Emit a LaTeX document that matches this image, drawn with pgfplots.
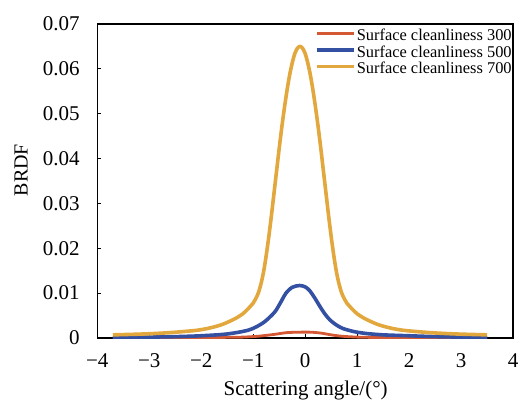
\documentclass[border=0pt]{standalone}
\usepackage{fontspec}
\setmainfont{Liberation Serif}
\usepackage{pgfplots}
\pgfplotsset{compat=1.18}
\definecolor{cRed}{RGB}{212,88,52}
\definecolor{cBlue}{RGB}{52,80,162}
\definecolor{cYel}{RGB}{226,168,62}
\begin{document}
\begin{tikzpicture}
\path[use as bounding box] (-48.65pt,-32pt) rectangle (211.35pt,169pt);
\begin{axis}[
  at={(0pt,0pt)}, anchor=south west,
  scale only axis, width=207.9pt, height=157pt,
  xmin=-4, xmax=4, ymin=0, ymax=0.07,
  xtick={-4,-3,-2,-1,0,1,2,3,4},
  xticklabels={−4,−3,−2,−1,0,1,2,3,4},
  ytick={0,0.01,0.02,0.03,0.04,0.05,0.06,0.07},
  yticklabels={0,0.01,0.02,0.03,0.04,0.05,0.06,0.07},
  scaled y ticks=false,
  tick align=inside, xtick pos=bottom, ytick pos=left,
  major tick length=2pt,
  axis line style={line width=0.6pt},
  every tick/.style={black, line width=0.6pt},
  tick label style={font=\fontsize{10.5pt}{12pt}\selectfont},
  yticklabel style={xshift=-5.3pt},
  xticklabel style={yshift=-4.2pt},
  xlabel={Scattering angle/(°)},
  ylabel={BRDF},
  every axis x label/.style={at={(axis description cs:0.501,-0.1847)},anchor=base,font=\fontsize{10.5pt}{12pt}\selectfont},
  every axis y label/.style={at={(axis description cs:-0.1835,0.535)},rotate=90,anchor=center,font=\fontsize{10pt}{12pt}\selectfont},
  legend style={at={(axis description cs:0.5236,0.985)}, anchor=north west,
    draw=none, fill=none, inner sep=0pt, outer sep=0pt,
    font=\fontsize{8.2pt}{9pt}\selectfont,
    nodes={inner sep=0pt, inner xsep=0.6pt, text height=6pt, text depth=2.15pt},
    row sep=0pt, column sep=0pt},
  legend cell align=left,
  legend image code/.code={\draw[#1] (0pt,1.5pt) -- (18.5pt,1.5pt);},
]
\addplot[cRed, line width=1.4pt, smooth, tension=0.5] coordinates {
(-3.7,0.0001) (-3.0,0.0001) (-2.0,0.0001) (-1.5,0.00015) (-1.2,0.0002) (-0.9,0.0004)
(-0.6,0.0008) (-0.35,0.0012) (-0.1,0.0013) (0.1,0.0013) (0.3,0.0011) (0.5,0.0007)
(0.7,0.0004) (1.0,0.0002) (1.4,0.00012) (2.0,0.0001) (3.0,0.0001) (3.5,0.0001)
};
\addlegendentry{Surface cleanliness 300}
\addplot[cBlue, line width=1.8pt, smooth, tension=0.5] coordinates {
(-3.7,0.0001) (-3.0,0.0002) (-2.5,0.0003) (-2.0,0.0005) (-1.5,0.0009) (-1.08,0.0018)
(-0.82,0.0033) (-0.65,0.0050) (-0.56,0.0062) (-0.45,0.0084) (-0.37,0.0100) (-0.25,0.0113)
(-0.11,0.0117) (0.0,0.0114) (0.09,0.0105) (0.18,0.0090) (0.28,0.0071) (0.37,0.0055)
(0.47,0.0041) (0.6,0.0029) (0.73,0.0021) (0.95,0.0014) (1.18,0.0010) (1.5,0.0007)
(2.0,0.0005) (2.5,0.0003) (3.0,0.0002) (3.5,0.0001)
};
\addlegendentry{Surface cleanliness 500}
\addplot[cYel, line width=1.8pt, smooth, tension=0.5] coordinates {
(-3.7,0.0007) (-3.1,0.0009) (-2.6,0.0012) (-2.1,0.0017) (-1.85,0.0022) (-1.6,0.0030)
(-1.35,0.0043) (-1.2,0.0054) (-1.1,0.0065) (-1.0,0.0078) (-0.95,0.0088) (-0.9,0.0101)
(-0.85,0.0121) (-0.8,0.0148) (-0.75,0.0184) (-0.7,0.0226) (-0.65,0.0273) (-0.6,0.0323)
(-0.55,0.0373) (-0.5,0.0423) (-0.45,0.0470) (-0.4,0.0513) (-0.35,0.0552) (-0.3,0.0586)
(-0.25,0.0613) (-0.2,0.0634) (-0.15,0.0646) (-0.1,0.0650)
(-0.05,0.0646) (0.0,0.0634) (0.05,0.0613) (0.1,0.0586) (0.15,0.0552) (0.2,0.0513)
(0.25,0.0470) (0.3,0.0423) (0.35,0.0373) (0.4,0.0323) (0.45,0.0273) (0.5,0.0226)
(0.55,0.0184) (0.6,0.0148) (0.65,0.0121) (0.7,0.0101) (0.75,0.0088) (0.8,0.0078)
(0.9,0.0065) (1.0,0.0054) (1.15,0.0043) (1.4,0.0030) (1.65,0.0022) (1.9,0.0017)
(2.4,0.0012) (2.9,0.0009) (3.5,0.0007)
};
\addlegendentry{Surface cleanliness 700}
\end{axis}
\end{tikzpicture}
\end{document}
